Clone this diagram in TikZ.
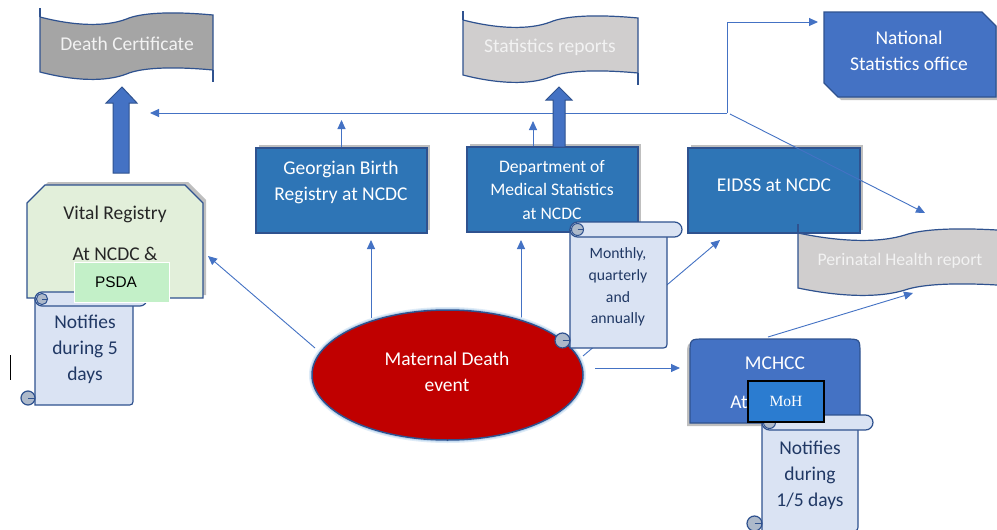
\documentclass[tikz,border=0pt]{standalone}
\usepackage{fontspec}
\setmainfont{Carlito}
\newfontfamily\arialf{Liberation Sans}
\newfontfamily\timesf{Liberation Serif}
\usetikzlibrary{arrows.meta,shadows,shapes.geometric,calc}
\definecolor{bdr}{HTML}{2F528F}
\definecolor{boxblue}{HTML}{2E75B6}
\definecolor{midblue}{HTML}{4472C4}
\definecolor{scrollfill}{HTML}{DAE3F3}
\definecolor{scrolltext}{HTML}{203864}
\definecolor{vitalfill}{HTML}{E2EFDA}
\definecolor{vitaltext}{HTML}{262626}
\definecolor{psdafill}{HTML}{C3F0C8}
\definecolor{mohfill}{HTML}{2B7CD0}
\definecolor{darkred}{HTML}{C00000}
\definecolor{glowc}{HTML}{BDD7EE}
\definecolor{grayA}{HTML}{A5A5A5}
\definecolor{grayB}{HTML}{D0CECE}
\definecolor{linec}{HTML}{4472C4}
\definecolor{curlc}{HTML}{ADB9CA}
% wave banner: x0 y0 width fill
\newcommand\wavebanner[4]{%
 \begin{scope}[shift={(#1,#2)},xscale=#3]
  \filldraw[fill=#4,draw=bdr,line width=1.2pt] (0,0) .. controls (0.2,9) and (0.38,10) .. (0.5,2) .. controls (0.58,-4) and (0.75,-6) .. (1,-2) -- (1,53) .. controls (0.75,49) and (0.58,51) .. (0.5,57) .. controls (0.38,65) and (0.2,64) .. (0,55) -- cycle;
  \draw[bdr,line width=1.2pt] (0,0) -- (0,-9) (1,53) -- (1,65);
 \end{scope}}
% vertical scroll: L T R B r
\newcommand\vscroll[5]{%
 \filldraw[fill=scrollfill,draw=bdr,line width=1.2pt] ({#1},{#2+#5}) -- ({#1},{#4}) -- ({#3-#5},{#4}) .. controls ({#3},{#4}) .. ({#3},{#4-#5}) -- ({#3},{#2+#5}) -- cycle;
 \filldraw[fill=curlc,draw=bdr,line width=1.2pt] ({#1-#5},{#4-#5}) circle [radius=#5];
 \draw[bdr,line width=1pt] ({#1-#5},{#4-#5}) -- ({#1},{#4-#5});
 \filldraw[fill=scrollfill,draw=bdr,line width=1.2pt,rounded corners=#5pt] ({#1},{#2}) rectangle ({#3+2*#5},{#2+2*#5});
 \filldraw[fill=curlc,draw=bdr,line width=1pt] ({#1+#5},{#2+#5}) circle [radius={0.8*#5}];
 \draw[bdr,line width=0.8pt] ({#1+#5},{#2+#5}) -- ({#1+1.8*#5},{#2+#5});
}
\begin{document}
\begin{tikzpicture}[x=1pt,y=-1pt,
  conn/.style={draw=linec,line width=0.9pt,-{Triangle[width=8pt,length=9pt]}},
  wt/.style={text=white,font=\fontsize{19.5}{26}\selectfont,align=center,inner sep=0},
  st/.style={text=scrolltext,font=\fontsize{19.5}{26}\selectfont,align=center,inner sep=0},
  shad/.style={drop shadow={shadow xshift=3pt,shadow yshift=3pt,opacity=0.25,fill=black}},
  bbox/.style={rectangle,fill=boxblue,draw=bdr,line width=1.2pt,inner sep=0,shad},
  blockarrow/.style={fill=midblue,draw=bdr,line width=1pt}]
\useasboundingbox (0,0) rectangle (997,530);
\fill[white] (0,0) rectangle (997,530);

% report banners
\wavebanner{40}{17}{173}{grayA}
\wavebanner{463}{20}{175}{grayB}

% coordinates for connectors
\coordinate (J) at (727,113);
\coordinate (Jb) at (730,114);
\coordinate (dcin) at (150,113);
\coordinate (nsoin) at (818,22);
\coordinate (pin) at (925,213);
\coordinate (pin2) at (913,293);
\coordinate (mchout) at (768,337);
\coordinate (evL) at (315,348);
\coordinate (vrin) at (208,256);
\coordinate (evG) at (371,318);
\coordinate (gbrin) at (371,240);
\coordinate (evD) at (521,318);
\coordinate (dmsin) at (521,240);
\coordinate (evE) at (583,356);
\coordinate (eidin) at (720,240);
\coordinate (evM) at (595,368);
\coordinate (mchin) at (680,368);
\coordinate (gbrup) at (341.5,120);
\coordinate (dmsup) at (533,121);

% connectors under boxes
\draw[conn] (J) -- (dcin);
\draw[conn] (J) |- (nsoin);
\draw[conn] (evL) -- (vrin);
\draw[conn] (evG) -- (gbrin);
\draw[conn] (evD) -- (dmsin);
\draw[conn] (evE) -- (eidin);
\draw[conn] (evM) -- (mchin);

% boxes
\node[bbox,minimum width=171pt,minimum height=85pt] (gbr) at (341.5,190.5) {};
\node[bbox,minimum width=171pt,minimum height=85pt] (dms) at (552.5,189.5) {};
\node[bbox,minimum width=172pt,minimum height=85pt] (eid) at (774,190.5) {};
\draw[conn] (gbr.north) -- (gbrup);
\draw[conn] (dmsup |- dms.north) -- (dmsup);

% National statistics office
\filldraw[fill=midblue,draw=bdr,line width=1.2pt,drop shadow={shadow xshift=3pt,shadow yshift=-3pt,opacity=0.25,fill=black}] (824,12) -- (982,12) -- (996,26) -- (996,97) -- (838,97) -- (824,83) -- cycle;

% MCHCC
\filldraw[fill=midblue,draw=bdr,line width=1.2pt,drop shadow={shadow xshift=-3pt,shadow yshift=-3pt,opacity=0.25,fill=black}] (690,423) -- (690,354) .. controls (690,339) .. (705,339) -- (845,339) .. controls (860,339) .. (860,354) -- (860,423) -- cycle;

% Vital registry
\filldraw[fill=vitalfill,draw=bdr,line width=1.2pt,shad] (27,203) -- (45,185) -- (185,185) -- (203,203) -- (203,298) -- (27,298) -- cycle;

% block arrows
\filldraw[blockarrow] (113,173) -- (113,103) -- (106,103) -- (122,87) -- (137,103) -- (129,103) -- (129,173) -- cycle;
\filldraw[blockarrow] (553,147) -- (553,100) -- (546,100) -- (559,87) -- (572,100) -- (565,100) -- (565,147) -- cycle;

% line over EIDSS to perinatal
\draw[conn] (Jb) -- (pin);
\wavebanner{798}{233}{214}{grayB}
\draw[conn] (mchout) -- (pin2);

% ellipse
\draw[glowc!50,line width=6pt] (447.5,375) ellipse [x radius=135.5,y radius=65];
\draw[glowc,line width=3.5pt] (447.5,375) ellipse [x radius=135.5,y radius=65];
\node[ellipse,fill=darkred,draw=bdr,line width=1.5pt,minimum width=271pt,minimum height=130pt,inner sep=0] (ev) at (447.5,375) {};

% scrolls
\vscroll{35}{292}{133}{405}{7}
\vscroll{570}{222}{667}{348}{7.5}
\vscroll{762}{415}{858}{531}{7.5}

% overlays
\filldraw[fill=psdafill,draw=white,line width=0.8pt] (74,262) rectangle (169,302);
\filldraw[fill=mohfill,draw=black,line width=1.2pt] (748,381) rectangle (824,422);

% cursor mark
\draw[black,line width=1pt] (10,355) -- (10,380);

% texts
\node[wt,text=white!95!black] (dct) at (127,44) {Death Certificate};
\node[wt,text=white!95!black] (srt) at (550,47) {Statistics reports};
\node[wt,text=white!95!black,font=\fontsize{17.7}{22}\selectfont] (pht) at (900,261) {Perinatal Health report};
\node[wt] (gbrt) at (341,182) {Georgian Birth\\Registry at NCDC};
\node[wt,font=\fontsize{17.6}{23.5}\selectfont] (dmst) at (552,190) {Department of\\Medical Statistics\\at NCDC};
\node[wt] (eidt) at (774,185) {EIDSS at NCDC};
\node[wt] (nsot) at (909,51) {National\\Statistics office};
\node[wt] (mcht) at (775,363) {MCHCC};
\node[wt] (mchat) at (739,402) {At};
\node[wt] (evt) at (447,372) {Maternal Death\\event};
\node[wt,text=vitaltext] (vrt1) at (115,214) {Vital Registry};
\node[wt,text=vitaltext] (vrt2) at (115,254) {At NCDC \&};
\node[inner sep=0,font=\arialf\fontsize{15.4}{18}\selectfont] (psdat) at (116,282) {PSDA};
\node[inner sep=0,text=white,font=\timesf\fontsize{15.6}{18}\selectfont] (moht) at (786,401) {MoH};
\node[st] (s1t) at (85,349) {Notifies\\during 5\\days};
\node[st,font=\fontsize{15.7}{21.7}\selectfont] (s2t) at (618,287) {Monthly,\\quarterly\\and\\annually};
\node[st] (s3t) at (810,475) {Notifies\\during\\1/5 days};
\end{tikzpicture}
\end{document}
